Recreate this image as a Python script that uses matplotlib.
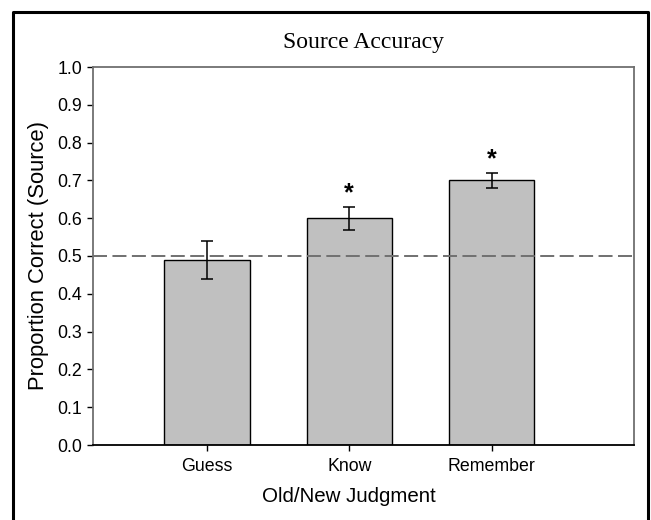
import matplotlib
matplotlib.use("Agg")
import matplotlib.pyplot as plt
from matplotlib.lines import Line2D

categories = ["Guess", "Know", "Remember"]
means = [0.49, 0.60, 0.70]
errors = [0.05, 0.03, 0.02]
significant = [False, True, True]
chance = 0.5

plt.rcParams["font.family"] = ["Liberation Sans", "DejaVu Sans"]

fig = plt.figure(figsize=(6.51, 5.2), dpi=100)
ax = fig.add_axes([93 / 651, 1 - 445 / 520, (634 - 93) / 651, (445 - 67) / 520])

x = list(range(len(categories)))
ax.bar(x, means, width=0.6, color="#c0c0c0", edgecolor="black", linewidth=1.0, zorder=2)
ax.errorbar(x, means, yerr=errors, fmt="none", ecolor="black",
            elinewidth=1.1, capsize=4, capthick=1.1, zorder=4)

# chance line
ax.axhline(chance, color="#707070", linewidth=1.4, dashes=(7.2, 2.8), zorder=3)

for xi, m, e, sig in zip(x, means, errors, significant):
    if sig:
        ax.text(xi, m + e + 0.017, "*", ha="center", va="baseline",
                fontsize=18, fontweight="bold")

ax.set_xlim(-0.8, 3.0)
ax.set_ylim(0, 1.0)
ax.set_yticks([i / 10 for i in range(11)])
ax.set_yticklabels([f"{i / 10:.1f}" for i in range(11)])
ax.set_xticks(x)
ax.set_xticklabels(categories)
ax.tick_params(axis="both", labelsize=12.8, length=4, width=1, direction="out")
ax.tick_params(axis="x", pad=5.5)
ax.tick_params(axis="y", pad=4)

for side in ["top", "right", "left"]:
    ax.spines[side].set_color("#6f6f6f")
    ax.spines[side].set_linewidth(1.3)
ax.spines["bottom"].set_color("black")
ax.spines["bottom"].set_linewidth(1.3)

ax.set_title("Source Accuracy", family=["Liberation Serif", "DejaVu Serif"],
             fontsize=17, pad=14)
ax.set_ylabel("Proportion Correct (Source)", fontsize=15.8, labelpad=6)
ax.set_xlabel("Old/New Judgment", fontsize=14.8)
# x label sits under the middle bar, not the axes centre
ax.xaxis.set_label_coords((1 + 0.8) / 3.8, -0.11, transform=ax.transAxes)
ax.xaxis.label.set_va("top")

# outer frame (open at the bottom)
W, H = 651, 520
fx = [12.5 / W, 12.5 / W, 648 / W, 648 / W]
fy = [0, 1 - 11.5 / H, 1 - 11.5 / H, 0]
fig.add_artist(Line2D(fx, fy, color="black", linewidth=2.2, transform=fig.transFigure))

fig.savefig("out.png", dpi=100)
